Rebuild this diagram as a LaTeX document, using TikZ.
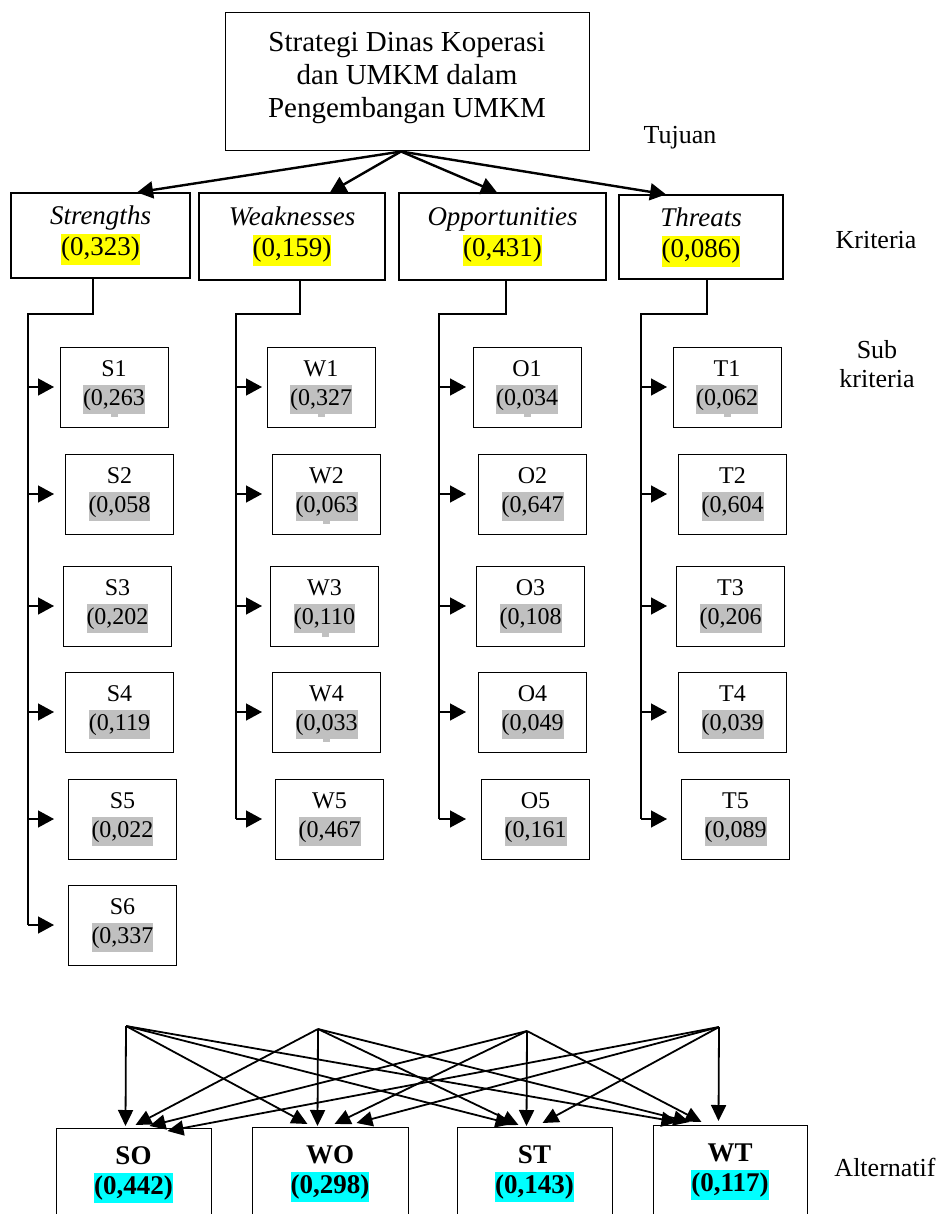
\documentclass[tikz,border=0pt]{standalone}
\usepackage{fontspec}
\setmainfont{Liberation Serif}
\usetikzlibrary{arrows.meta,positioning,calc}
\definecolor{hlyellow}{RGB}{255,255,0}
\definecolor{hlcyan}  {RGB}{0,255,255}
\definecolor{hlgray}  {RGB}{192,192,192}
\newcommand{\hly}[1]{{\setlength{\fboxsep}{0pt}\colorbox{hlyellow}{\strut#1}}}
\newcommand{\hlc}[1]{{\setlength{\fboxsep}{0pt}\colorbox{hlcyan}{\strut#1}}}
\newcommand{\hlg}[1]{{\setlength{\fboxsep}{0pt}\colorbox{hlgray}{\strut#1}}}

\begin{document}
\begin{tikzpicture}[
  x=1pt,y=-1pt,
  goal/.style={draw,line width=1pt,minimum width=364pt,minimum height=138pt,
               align=center,font=\fontsize{29}{33}\selectfont},
  crit/.style={draw,line width=1.2pt,align=center,
               font=\fontsize{27}{31}\selectfont},
  subbox/.style={draw,line width=0.9pt,minimum width=108pt,minimum height=80pt,
                 align=center,font=\fontsize{24}{29}\selectfont},
  altbox/.style={draw,line width=1pt,anchor=north,minimum height=110pt,
                 align=center,font=\bfseries\fontsize{27}{30}\selectfont},
  lbl/.style={align=center,font=\fontsize{26}{29}\selectfont},
  topar/.style={-{Triangle[length=16pt,width=17pt]},line width=2.4pt},
  tree/.style={line width=1.4pt},
  subar/.style={-{Triangle[length=16pt,width=17pt]},line width=1.4pt},
  altar/.style={-{Triangle[length=16pt,width=15pt]},line width=1.8pt},
]
\useasboundingbox (0,0) rectangle (937,1214);
\clip (0,0) rectangle (937,1214);

%% -- Tujuan ---------------------------------------------------------------
\node[goal] (goal) at (407,82)
  {Strategi Dinas Koperasi\\dan UMKM dalam\\Pengembangan UMKM\\[-18pt]\mbox{}};

%% -- Kriteria -------------------------------------------------------------
\node[crit,minimum width=179pt,minimum height=85pt] (Sc) at (100.5,235.5)
  {\textit{Strengths}\\\hly{(0,323)}};
\node[crit,minimum width=186pt,minimum height=87pt] (Wc) at (292,236.5)
  {\textit{Weaknesses}\\\hly{(0,159)}};
\node[crit,minimum width=207pt,minimum height=87pt] (Oc) at (502.5,236.5)
  {\textit{Opportunities}\\\hly{(0,431)}};
\node[crit,minimum width=164pt,minimum height=84pt] (Tc) at (701,237)
  {\textit{Threats}\\\hly{(0,086)}};

\draw[topar] ([xshift=-6pt]goal.south) -- ([xshift=36.5pt]Sc.north);
\draw[topar] ([xshift=-6pt]goal.south) -- ([xshift=38pt]Wc.north);
\draw[topar] ([xshift=-6pt]goal.south) -- ([xshift=-5.5pt]Oc.north);
\draw[topar] ([xshift=-6pt]goal.south) -- ([xshift=-35pt]Tc.north);

%% -- Sub kriteria ---------------------------------------------------------
\node[subbox] (S1) at (114,387)   {S1\\\hlg{(0,263}};
\node[subbox] (S2) at (119.5,494) {S2\\\hlg{(0,058}};
\node[subbox] (S3) at (117.5,606) {S3\\\hlg{(0,202}};
\node[subbox] (S4) at (119.5,712) {S4\\\hlg{(0,119}};
\node[subbox] (S5) at (122.5,819) {S5\\\hlg{(0,022}};
\node[subbox] (S6) at (122.5,925) {S6\\\hlg{(0,337}};

\node[subbox] (W1) at (321,387)   {W1\\\hlg{(0,327}};
\node[subbox] (W2) at (326.5,494) {W2\\\hlg{(0,063}};
\node[subbox] (W3) at (324.5,606) {W3\\\hlg{(0,110}};
\node[subbox] (W4) at (326.5,712) {W4\\\hlg{(0,033}};
\node[subbox] (W5) at (329.5,819) {W5\\\hlg{(0,467}};

\node[subbox] (O1) at (527,387)   {O1\\\hlg{(0,034}};
\node[subbox] (O2) at (532.5,494) {O2\\\hlg{(0,647}};
\node[subbox] (O3) at (530.5,606) {O3\\\hlg{(0,108}};
\node[subbox] (O4) at (532.5,712) {O4\\\hlg{(0,049}};
\node[subbox] (O5) at (535.5,819) {O5\\\hlg{(0,161}};

\node[subbox] (T1) at (727,387)   {T1\\\hlg{(0,062}};
\node[subbox] (T2) at (732.5,494) {T2\\\hlg{(0,604}};
\node[subbox] (T3) at (730.5,606) {T3\\\hlg{(0,206}};
\node[subbox] (T4) at (732.5,712) {T4\\\hlg{(0,039}};
\node[subbox] (T5) at (735.5,819) {T5\\\hlg{(0,089}};

% stray grey bits under some values
\fill[hlgray] ($(S1.center)+(-3.5,25)$) rectangle ++(7,5);
\fill[hlgray] ($(W1.center)+(-3.5,25)$) rectangle ++(7,5);
\fill[hlgray] ($(W2.center)+(-3.5,26)$) rectangle ++(7,4);
\fill[hlgray] ($(W3.center)+(-2.5,26)$) rectangle ++(7,5);
\fill[hlgray] ($(W4.center)+(-3.5,27)$) rectangle ++(7,3);
\fill[hlgray] ($(O1.center)+(-3.5,25)$) rectangle ++(7,5);
\fill[hlgray] ($(T1.center)+(-3.5,25)$) rectangle ++(7,5);

%% -- branches ---------------------------------------------------------------
\coordinate (sS) at (28,314);
\coordinate (sW) at (236,314);
\coordinate (sO) at (439,314);
\coordinate (sT) at (641,314);

\draw[tree] ([xshift=-7.5pt]Sc.south) |- (sS) -- (sS |- S6.west);
\draw[tree] ([xshift=8pt]Wc.south) |- (sW) -- (sW |- W5.west);
\draw[tree] ([xshift=3.5pt]Oc.south) |- (sO) -- (sO |- O5.west);
\draw[tree] ([xshift=6pt]Tc.south) |- (sT) -- (sT |- T5.west);

\draw[subar] (sS |- S1.west) -- ++(26,0);
\draw[subar] (sS |- S2.west) -- ++(26,0);
\draw[subar] (sS |- S3.west) -- ++(26,0);
\draw[subar] (sS |- S4.west) -- ++(26,0);
\draw[subar] (sS |- S5.west) -- ++(26,0);
\draw[subar] (sS |- S6.west) -- ++(26,0);

\draw[subar] (sW |- W1.west) -- ++(26,0);
\draw[subar] (sW |- W2.west) -- ++(26,0);
\draw[subar] (sW |- W3.west) -- ++(26,0);
\draw[subar] (sW |- W4.west) -- ++(26,0);
\draw[subar] (sW |- W5.west) -- ++(26,0);

\draw[subar] (sO |- O1.west) -- ++(27,0);
\draw[subar] (sO |- O2.west) -- ++(27,0);
\draw[subar] (sO |- O3.west) -- ++(27,0);
\draw[subar] (sO |- O4.west) -- ++(27,0);
\draw[subar] (sO |- O5.west) -- ++(27,0);

\draw[subar] (sT |- T1.west) -- ++(26,0);
\draw[subar] (sT |- T2.west) -- ++(26,0);
\draw[subar] (sT |- T3.west) -- ++(26,0);
\draw[subar] (sT |- T4.west) -- ++(26,0);
\draw[subar] (sT |- T5.west) -- ++(26,0);

%% -- Alternatif -------------------------------------------------------------
\node[altbox,minimum width=155pt] (SO) at (133.5,1128)
  {SO\\\hlc{(0,442)}\\[-4pt]\mbox{}};
\node[altbox,minimum width=156pt] (WO) at (330,1127)
  {WO\\\hlc{(0,298)}\\[-4pt]\mbox{}};
\node[altbox,minimum width=155pt] (ST) at (534.5,1127)
  {ST\\\hlc{(0,143)}\\[-4pt]\mbox{}};
\node[altbox,minimum width=154pt] (WT) at (730,1125)
  {WT\\\hlc{(0,117)}\\[-4pt]\mbox{}};

\coordinate (p1) at (126,1026);
\coordinate (p2) at (318,1029);
\coordinate (p3) at (527,1031);
\coordinate (p4) at (719,1027);

\draw[altar] (p1) -- ($(SO.north west)+(70,-2)$);
\draw[altar] (p1) -- ($(WO.north west)+(56,-3)$);
\draw[altar] (p1) -- ($(ST.north west)+(55,-3)$);
\draw[altar] (p1) -- ($(WT.north west)+(25,-3)$);

\draw[altar] (p2) -- ($(SO.north west)+(80,-3)$);
\draw[altar] (p2) -- ($(WO.north west)+(66,-1)$);
\draw[altar] (p2) -- ($(ST.north west)+(62,-2)$);
\draw[altar] (p2) -- ($(WT.north west)+(37,-3)$);

\draw[altar] (p3) -- ($(SO.north west)+(94,-2)$);
\draw[altar] (p3) -- ($(WO.north west)+(83,-3)$);
\draw[altar] (p3) -- ($(ST.north west)+(70,-1)$);
\draw[altar] (p3) -- ($(WT.north west)+(49,-3)$);

\draw[altar] (p4) -- ($(SO.north west)+(112,3)$);
\draw[altar] (p4) -- ($(WO.north west)+(105,-4)$);
\draw[altar] (p4) -- ($(ST.north west)+(86,-4)$);
\draw[altar] (p4) -- ($(WT.north west)+(66,-4)$);

%% -- level labels -----------------------------------------------------------
\node[lbl] (tujuan)  at (680,138)  {Tujuan};
\node[lbl] (kriteria) at (876,240) {Kriteria};
\node[lbl] (subkrit) at (877,364)  {Sub\\kriteria};
\node[lbl] (alter)   at (885,1167) {Alternatif};

\end{tikzpicture}
\end{document}
